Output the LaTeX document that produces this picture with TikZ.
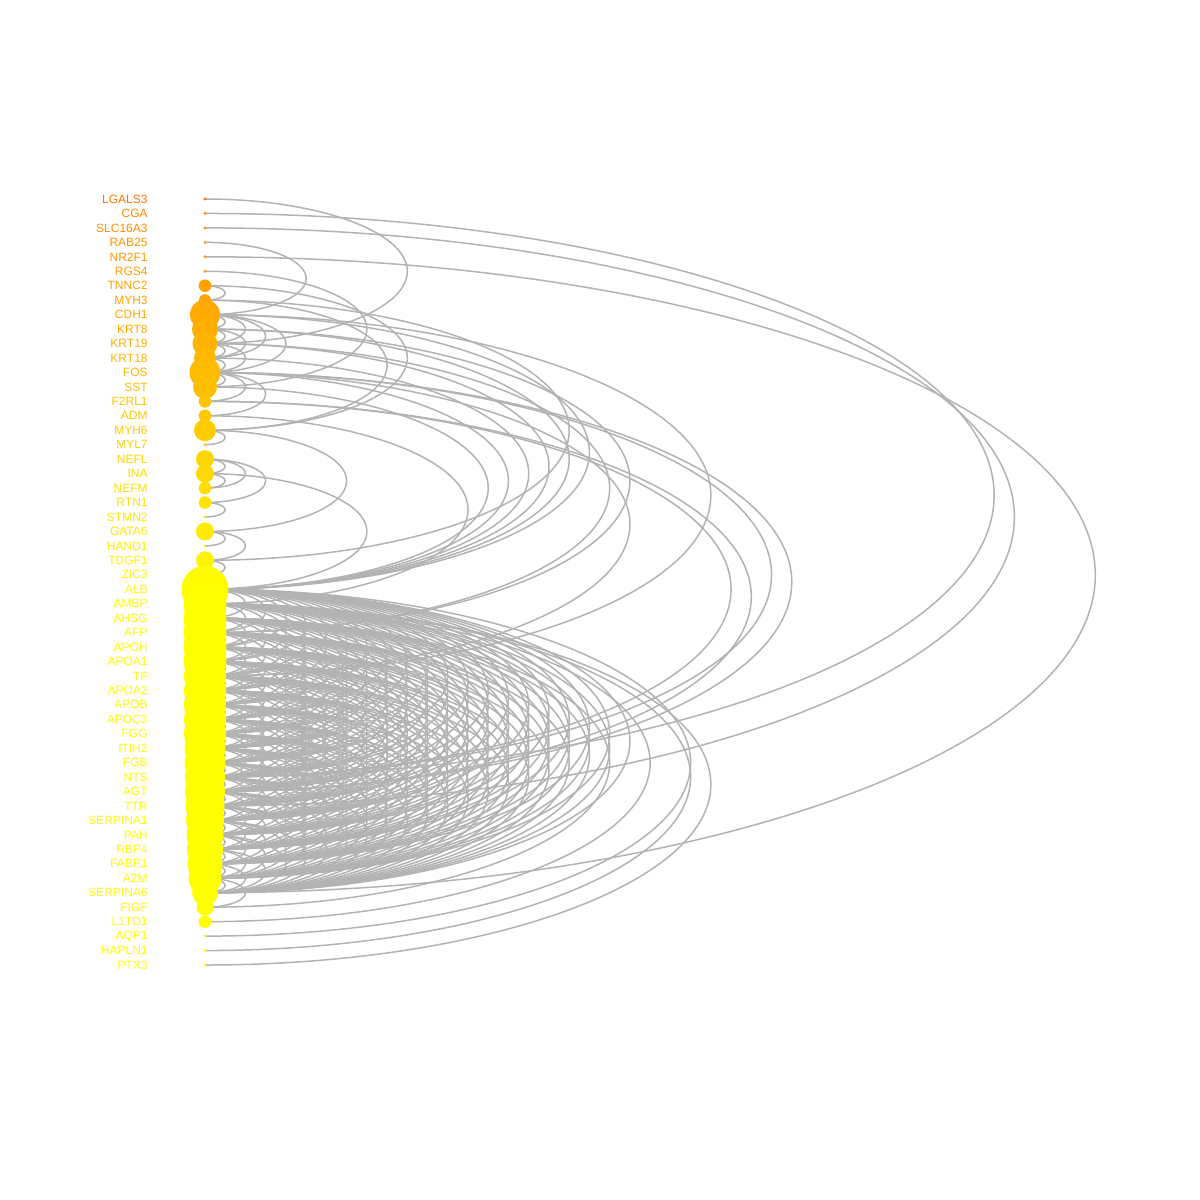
\documentclass[tikz,border=0pt]{standalone}
\usepackage{fontspec}
\setmainfont{Liberation Sans}
\pgfdeclarelayer{back}
\pgfdeclarelayer{bg}
\pgfsetlayers{back,bg,main}
\definecolor{edgegray}{RGB}{179,179,179}
\tikzset{
  lab/.style={anchor=east, inner sep=0pt, font=\fontsize{6pt}{7pt}\selectfont},
  dot/.style={circle, inner sep=0pt, draw=none},
  edge/.style={draw=edgegray, line width=0.75pt},
}
\newcommand\ac[2]{\draw[edge] (n#1.center) arc[start angle=90, end angle=-90, x radius={2.8*(#2-#1)*3.6132pt}, y radius={(#2-#1)*3.6132pt}];}
\begin{document}
\begin{tikzpicture}[x=0.5pt, y=-0.5pt]
\begin{pgfonlayer}{back}
\fill[white] (0,0) rectangle (1200,1200);
\end{pgfonlayer}
\useasboundingbox (0,0) rectangle (1200,1200);
\foreach \i/\name/\r in {1/LGALS3/1.6, 2/CGA/1.6, 3/SLC16A3/1.6, 4/RAB25/1.6, 5/NR2F1/1.6, 6/RGS4/1.6,
  7/TNNC2/6.3, 8/MYH3/6, 9/CDH1/15, 10/KRT8/13, 11/KRT19/12.5, 12/KRT18/11, 13/FOS/15.5, 14/SST/12,
  15/F2RL1/6.3, 16/ADM/6.3, 17/MYH6/11, 18/MYL7/1.6, 19/NEFL/9, 20/INA/9, 21/NEFM/6.3, 22/RTN1/6.3,
  23/STMN2/1.6, 24/GATA6/9, 25/HAND1/1.6, 26/TDGF1/9, 27/ZIC3/1.6, 28/ALB/23.5, 29/AMBP/21.5,
  30/AHSG/21.5, 31/AFP/21.5, 32/APOH/21.5, 33/APOA1/21.5, 34/TF/21, 35/APOA2/21, 36/APOB/21,
  37/APOC3/21, 38/FGG/21, 39/ITIH2/20.5, 40/FGB/20.5, 41/NTS/20, 42/AGT/20, 43/TTR/19.5,
  44/SERPINA1/19, 45/PAH/18.5, 46/RBP4/18, 47/FABP1/17.5, 48/A2M/16.5, 49/SERPINA6/13,
  50/FIGF/8.5, 51/L1TD1/6.3, 52/AQP1/1.6, 53/HAPLN1/1.6, 54/PTX3/1.6} {
  \pgfmathsetmacro\yy{199+(\i-1)*14.4528}
  \pgfmathtruncatemacro\gg{min(255, 140+4.3*(\i-2)-15*(\i==1))}
  \definecolor{cc}{RGB}{255,\gg,0}
  \node[lab, text=cc] (t\i) at (148,\yy) {\name};
  \node[dot, fill=cc, minimum size=\r pt] (n\i) at (205,\yy) {};
}
\begin{pgfonlayer}{bg}
% upper group
\ac{1}{11}\ac{2}{41}\ac{3}{43}\ac{4}{9}\ac{5}{49}\ac{6}{14}
\ac{7}{8}\ac{7}{17}\ac{8}{17}\ac{17}{18}
\ac{9}{10}\ac{9}{11}\ac{9}{12}\ac{9}{13}\ac{10}{11}\ac{10}{12}\ac{11}{12}\ac{11}{13}\ac{12}{13}
\ac{13}{14}\ac{13}{15}\ac{13}{16}
\ac{16}{29}\ac{14}{28}\ac{13}{28}\ac{12}{28}\ac{11}{28}\ac{10}{28}\ac{9}{28}
\ac{11}{31}\ac{10}{31}\ac{13}{34}\ac{9}{34}\ac{15}{41}\ac{15}{42}\ac{13}{41}\ac{13}{42}
\ac{19}{20}\ac{20}{21}\ac{19}{21}\ac{19}{22}\ac{22}{23}
\ac{24}{25}\ac{24}{26}\ac{26}{27}\ac{17}{24}\ac{20}{28}\ac{8}{26}
% lower group
\foreach \a in {28,...,48} {
  \pgfmathtruncatemacro\bs{\a+1}
  \foreach \b in {\bs,...,49} {\ac{\a}{\b}}
}
\ac{48}{50}\ac{30}{50}\ac{29}{51}\ac{28}{52}\ac{29}{53}\ac{29}{54}
\end{pgfonlayer}
\end{tikzpicture}
\end{document}
